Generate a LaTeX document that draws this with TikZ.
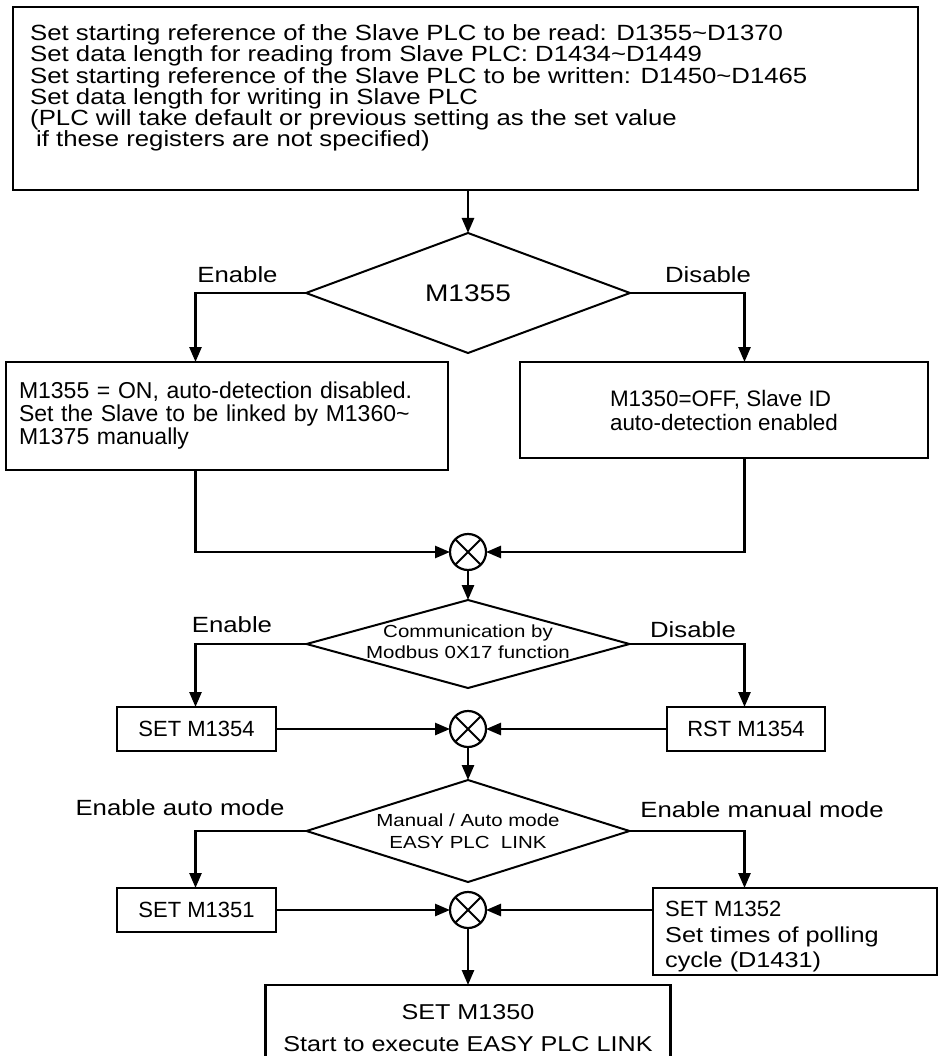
\documentclass[tikz,border=0pt]{standalone}
\usepackage{fontspec}
\setmainfont{Liberation Sans}[FakeStretch=1.17]
\newfontfamily\narrowsf{Liberation Sans}
\usetikzlibrary{arrows.meta,positioning,shapes.geometric}

\begin{document}
\begin{tikzpicture}[x=1pt, y=-1pt,
  box/.style={draw, line width=2.4pt, inner sep=0pt, outer sep=0pt},
  dec/.style={draw, diamond, line width=2pt, inner sep=0pt, outer sep=0pt},
  sum/.style={draw, circle, line width=2.2pt, minimum size=36pt, inner sep=0pt, outer sep=0pt,
    path picture={\draw[line width=2pt] (path picture bounding box.north west) -- (path picture bounding box.south east)
      (path picture bounding box.south west) -- (path picture bounding box.north east);}},
  arr/.style={line width=2.6pt, -{Triangle[length=15pt,width=12pt]}},
  lbl/.style={inner sep=0pt, font=\fontsize{22}{24}\selectfont},
  dectext/.style={inner sep=0pt, align=center, font=\fontsize{17.5}{21.5}\selectfont},
  cmd/.style={box, minimum width=159pt, minimum height=44pt, font=\narrowsf\fontsize{22}{24}\selectfont}]
\useasboundingbox (0,0) rectangle (939,1056);

% register setup
\node[box, minimum width=905pt, minimum height=183pt] (setup) at (465.5,98.5) {};
\node[anchor=north west, inner sep=0pt, align=left, font=\fontsize{22}{21.2}\selectfont] (setuptext) at (30,24.5)
  {Set starting reference of the Slave PLC to be read: D1355\textasciitilde D1370\\
   Set data length for reading from Slave PLC: D1434\textasciitilde D1449\\
   Set starting reference of the Slave PLC to be written: D1450\textasciitilde D1465\\
   Set data length for writing in Slave PLC\\
   (PLC will take default or previous setting as the set value\\
   \hspace*{6pt}if these registers are not specified)};

% decisions and junctions down the middle
\node[dec, minimum width=324pt, minimum height=120pt, font=\fontsize{24}{26}\selectfont] (m1355) at (468,293) {M1355};
\node[sum, below=181pt of m1355] (sum1) {};
\node[dec, minimum width=323pt, minimum height=88pt, below=30pt of sum1] (modbus) {};
\node[dectext, yshift=2.5pt] (modbustext) at (modbus) {Communication by\\Modbus 0X17 function};
\node[sum, below=23pt of modbus] (sum2) {};
\node[dec, minimum width=323pt, minimum height=102pt, below=33pt of sum2] (mode) {};
\node[dectext] (modetext) at (mode) {Manual / Auto mode\\EASY PLC\ \ LINK};
\node[sum, below=10pt of mode] (sum3) {};
\node[box, minimum width=405pt, minimum height=86pt, below=57pt of sum3, align=center,
  font=\fontsize{21.5}{32}\selectfont] (start) {SET M1350\\Start to execute EASY PLC LINK};

% side boxes
\node[box, minimum width=442pt, minimum height=108pt, text width=416pt, inner xsep=13pt, align=left,
  font=\narrowsf\fontsize{23}{23}\selectfont] (manual) at (227,416)
  {M1355 = ON, auto-detection disabled.\\Set the Slave to be linked by M1360\textasciitilde\\M1375 manually};
\node[box, minimum width=408pt, minimum height=96pt, align=left, font=\narrowsf\fontsize{22.4}{24}\selectfont] (autodet) at (724,410)
  {M1350=OFF, Slave ID\\auto-detection enabled};
\node[cmd] (setm1354) at (196.5,729) {SET M1354};
\node[cmd, minimum width=158pt] (rstm1354) at (746,729) {RST M1354};
\node[cmd] (setm1351) at (196.5,910) {SET M1351};
\node[box, minimum width=284pt, minimum height=87pt] (setm1352) at (795,931.5) {};
\node[anchor=north west, inner sep=0pt, align=left, font=\fontsize{21.6}{25.5}\selectfont] (setm1352text) at (665,901)
  {{\narrowsf\fontsize{22}{24}\selectfont SET M1352}\\Set times of polling\\cycle (D1431)};

% branch labels
\node[lbl, anchor=base] (en1) at (237.5,283) {Enable};
\node[lbl, anchor=base] (dis1) at (708,283) {Disable};
\node[lbl, anchor=base] (en2) at (232,632) {Enable};
\node[lbl, anchor=base] (dis2) at (693,637) {Disable};
\node[lbl, anchor=base] (enauto) at (180,815) {Enable auto mode};
\node[lbl, anchor=base] (enman) at (762,817) {Enable manual mode};

\coordinate (lcol) at (195.5,0);
\coordinate (rcol) at (744.5,0);

\draw[arr] (setup.south -| m1355.north) -- (m1355.north);
\draw[arr] (m1355.west) -| (manual.north -| lcol);
\draw[arr] (m1355.east) -| (autodet.north -| rcol);
\draw[arr] (manual.south -| lcol) |- (sum1.west);
\draw[arr] (autodet.south -| rcol) |- (sum1.east);
\draw[arr] (sum1) -- (modbus);
\draw[arr] (modbus.west) -| (setm1354.north -| lcol);
\draw[arr] (modbus.east) -| (rstm1354.north -| rcol);
\draw[arr] (setm1354.east) -- (sum2.west);
\draw[arr] (rstm1354.west) -- (sum2.east);
\draw[arr] (sum2) -- (mode);
\draw[arr] (mode.west) -| (setm1351.north -| lcol);
\draw[arr] (mode.east) -| (setm1352.north -| rcol);
\draw[arr] (setm1351.east) -- (sum3.west);
\draw[arr] (setm1352.west |- sum3) -- (sum3.east);
\draw[arr] (sum3) -- (start);
\end{tikzpicture}
\end{document}
